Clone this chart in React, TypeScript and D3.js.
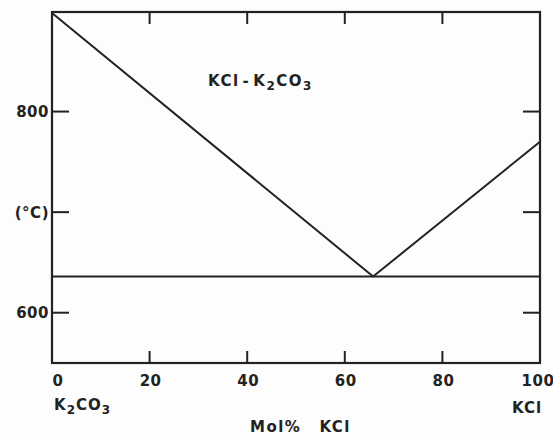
import React from "react";
import * as d3 from "d3";

const xTicks = [0, 20, 40, 60, 80, 100];
const yTicks = [600, 700, 800];
const yTickLabels = ["600", "(°C)", "800"];
const liquidusX = [0, 65.8, 100];
const liquidusT = [898, 636, 770];
const eutecticX = [0, 100];
const eutecticT = [636, 636];

const W = 553, H = 439;
const m = { left: 52, right: 13, top: 12, bottom: 76 };

export default function App() {
  const x = d3.scaleLinear().domain([0, 100]).range([m.left, W - m.right]);
  const y = d3.scaleLinear().domain([550, 899]).range([H - m.bottom, m.top]);
  const line = d3.line<[number, number]>().x(d => x(d[0])).y(d => y(d[1]));
  const liq = liquidusX.map((v, i) => [v, liquidusT[i]] as [number, number]);
  const eut = eutecticX.map((v, i) => [v, eutecticT[i]] as [number, number]);
  const stroke = "#222";
  const font = "'DejaVu Sans', sans-serif";
  const inner = xTicks.slice(1, -1);
  const xLabelPos = (t: number) => (t === 0 ? x(t) + 6 : t === 100 ? x(t) - 2 : x(t) + 1);
  return (
    <svg width={W} height={H} style={{ position: "absolute", left: 0, top: 0, background: "#fdfdfd" }}>
      <rect x={x(0)} y={y(899)} width={x(100) - x(0)} height={y(550) - y(899)} fill="none" stroke={stroke} strokeWidth={2.2} />
      {inner.map(t => (
        <g key={"xt" + t}>
          <line x1={x(t)} x2={x(t)} y1={y(550)} y2={y(550) - 12} stroke={stroke} strokeWidth={2} />
          <line x1={x(t)} x2={x(t)} y1={y(899)} y2={y(899) + 12} stroke={stroke} strokeWidth={2} />
        </g>
      ))}
      {yTicks.map(t => (
        <g key={"yt" + t}>
          <line x1={x(0)} x2={x(0) + 17} y1={y(t)} y2={y(t)} stroke={stroke} strokeWidth={2} />
          <line x1={x(100)} x2={x(100) - 17} y1={y(t)} y2={y(t)} stroke={stroke} strokeWidth={2} />
        </g>
      ))}
      <path d={line(liq) || ""} fill="none" stroke={stroke} strokeWidth={2} />
      <path d={line(eut) || ""} fill="none" stroke={stroke} strokeWidth={2} />
      <g fontFamily={font} fontSize={15} fill="#222" fontWeight="bold">
        {yTicks.map((t, i) => (
          <text key={"yl" + t} x={x(0) - 3} y={y(t)} dy="0.36em" textAnchor="end" letterSpacing={0.5}>{yTickLabels[i]}</text>
        ))}
        {xTicks.map(t => (
          <text key={"xl" + t} x={xLabelPos(t)} y={386} textAnchor="middle" letterSpacing={0.5}>{t}</text>
        ))}
        <text x={54} y={410} letterSpacing={1}>K<tspan fontSize={12} dy={4}>2</tspan><tspan dy={-4}>CO</tspan><tspan fontSize={12} dy={4}>3</tspan></text>
        <text x={527} y={413} textAnchor="middle" letterSpacing={1}>KCl</text>
        <text x={250} y={432} letterSpacing={1.5}>Mol%<tspan dx={18}>KCl</tspan></text>
        <text x={208} y={86} letterSpacing={1.5}>KCl<tspan dx={3}>-</tspan><tspan dx={3}>K</tspan><tspan fontSize={12} dy={4}>2</tspan><tspan dy={-4}>CO</tspan><tspan fontSize={12} dy={4}>3</tspan></text>
      </g>
    </svg>
  );
}
